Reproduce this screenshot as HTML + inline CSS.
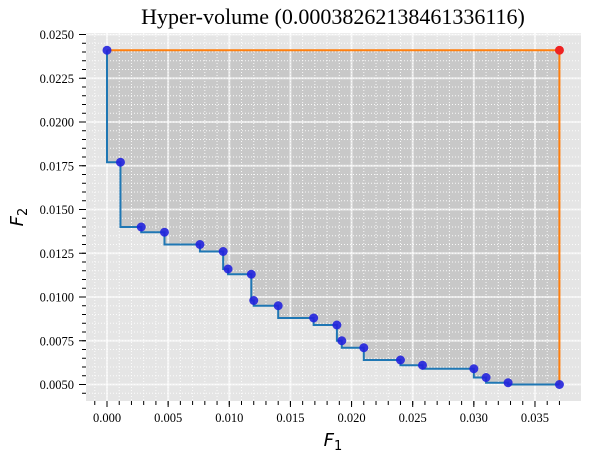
<!DOCTYPE html>
<html><head><meta charset="utf-8"><style>
body{margin:0;background:#fff;width:590px;height:462px;overflow:hidden}
svg{display:block}
</style></head><body>
<svg id="chart" width="590" height="462">
<text x="333" y="24" text-anchor="middle" font-family="Liberation Serif, serif" font-size="22">Hyper-volume (0.00038262138461336116)</text>
</svg>
<script>
const f1 = [0.0000,0.0011,0.0028,0.0047,0.0076,0.0095,0.0099,0.0118,0.0120,0.0140,0.0169,0.0188,0.0192,0.0210,0.0240,0.0258,0.0300,0.0310,0.0328,0.0370];
const f2 = [0.0241,0.0177,0.0140,0.0137,0.0130,0.0126,0.0116,0.0113,0.0098,0.0095,0.0088,0.0084,0.0075,0.0071,0.0064,0.0061,0.0059,0.0054,0.0051,0.0050];
const refPoint = [0.0370,0.0241];
const xTicks = [0.000,0.005,0.010,0.015,0.020,0.025,0.030,0.035];
const xTickLabels = ["0.000","0.005","0.010","0.015","0.020","0.025","0.030","0.035"];
const yTicks = [0.0050,0.0075,0.0100,0.0125,0.0150,0.0175,0.0200,0.0225,0.0250];
const yTickLabels = ["0.0050","0.0075","0.0100","0.0125","0.0150","0.0175","0.0200","0.0225","0.0250"];

const NS="http://www.w3.org/2000/svg";
const svg=document.getElementById('chart');
const L=86,R=581,T=33,B=401;
const X=v=>107+(v/0.005)*61.14;
const Y=v=>34.5+(0.025-v)/0.0025*43.75;
function el(tag,attrs,parent){const e=document.createElementNS(NS,tag);for(const k in attrs)e.setAttribute(k,attrs[k]);(parent||svg).appendChild(e);return e;}

const bg=el('rect',{x:L,y:T,width:R-L,height:B-T,fill:'#e5e5e5'});



let sp=[];
for(let i=0;i<f1.length;i++){
  if(i>0)sp.push([X(f1[i-1]),Y(f2[i])]);
  sp.push([X(f1[i]),Y(f2[i])]);
}
let pts=sp.slice();
pts.push([X(refPoint[0]),Y(refPoint[1])]);
const shade=el('polygon',{points:pts.map(p=>p.join(',')).join(' '),fill:'#c8c8c8'});



for(let v=-0.001;v<=0.038;v+=0.001){const x=X(v);if(x<L||x>R)continue;
  el('line',{x1:x,x2:x,y1:T,y2:B,stroke:'#fff','stroke-width':1,'stroke-dasharray':'1,2',opacity:0.9});
  el('line',{x1:x,x2:x,y1:B,y2:B+4,stroke:'#000','stroke-width':1});}
for(let v=0.0040;v<=0.0252;v+=0.0005){const y=Y(v);if(y<T||y>B)continue;
  el('line',{x1:L,x2:R,y1:y,y2:y,stroke:'#fff','stroke-width':1,'stroke-dasharray':'1,2',opacity:0.9});
  el('line',{x1:L-4,x2:L,y1:y,y2:y,stroke:'#000','stroke-width':1});}
xTicks.forEach((v,i)=>{const x=X(v);
  const g=el('line',{x1:x,x2:x,y1:T,y2:B,stroke:'#fff','stroke-width':2,opacity:0.6});
  
  
  el('line',{x1:x,x2:x,y1:B,y2:B+6,stroke:'#000','stroke-width':1});
  const t=el('text',{x:x,y:B+21,'text-anchor':'middle','font-family':'Liberation Serif, serif','font-size':12.5});
  t.textContent=xTickLabels[i];
  
  
});
yTicks.forEach((v,i)=>{const y=Y(v);
  const g=el('line',{x1:L,x2:R,y1:y,y2:y,stroke:'#fff','stroke-width':2,opacity:0.6});
  
  
  el('line',{x1:L-7,x2:L,y1:y,y2:y,stroke:'#000','stroke-width':1});
  const t=el('text',{x:L-12,y:y+4.5,'text-anchor':'end','font-family':'Liberation Serif, serif','font-size':12.5});
  t.textContent=yTickLabels[i];
  
  
});
const ob=el('polyline',{points:`${X(f1[0])},${Y(f2[0])} ${X(refPoint[0])},${Y(refPoint[1])} ${X(f1[f1.length-1])},${Y(f2[f2.length-1])}`,fill:'none',stroke:'#ff7f0e','stroke-width':2});


const st=el('polyline',{points:sp.map(p=>p.join(',')).join(' '),fill:'none',stroke:'#1f77b4','stroke-width':2});


for(let i=0;i<f1.length;i++){
  const c=el('circle',{cx:X(f1[i]),cy:Y(f2[i]),r:4.5,fill:'#2222dd',opacity:0.9});
  
  
}
const rp=el('circle',{cx:X(refPoint[0]),cy:Y(refPoint[1]),r:4.5,fill:'#ee2222'});



const xl=el('text',{x:333,y:446,'text-anchor':'middle','font-family':'DejaVu Sans, sans-serif','font-size':18,'font-style':'italic'});
xl.innerHTML='F<tspan font-size="13" dy="4" font-style="normal">1</tspan>';


const yl=el('text',{x:0,y:0,'text-anchor':'middle','font-family':'DejaVu Sans, sans-serif','font-size':18,'font-style':'italic',transform:'translate(23,217) rotate(-90)'});
yl.innerHTML='F<tspan font-size="13" dy="4" font-style="normal">2</tspan>';


</script>
</body></html>
